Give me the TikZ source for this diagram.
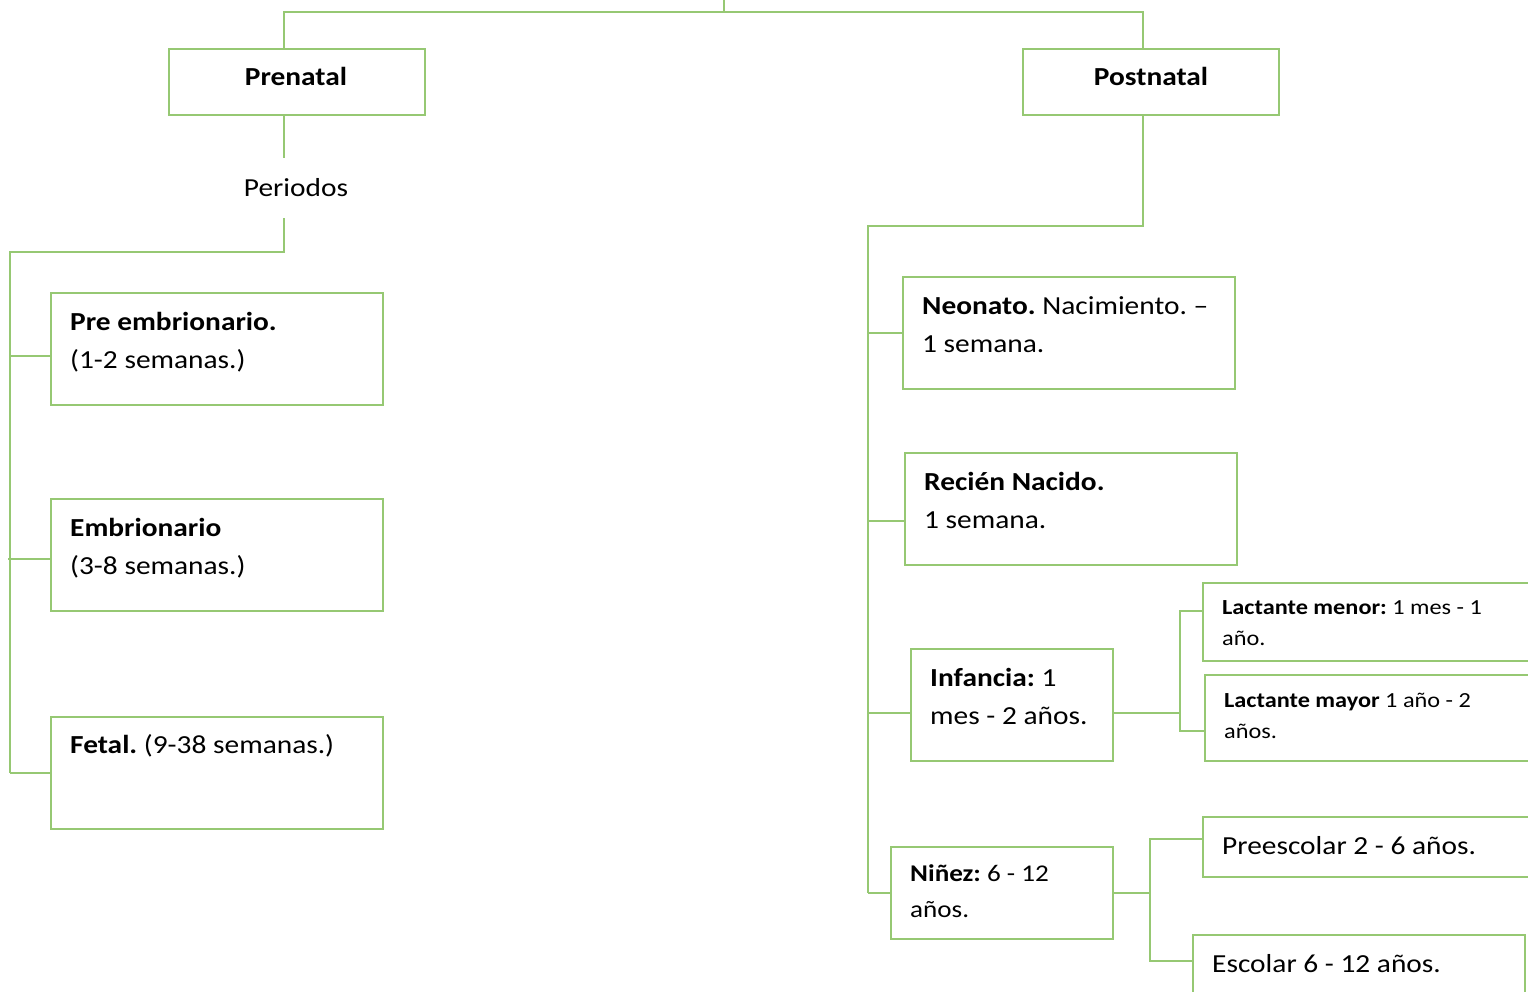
\documentclass[tikz,border=0pt]{standalone}
\usepackage{fontspec}
\setmainfont{Carlito}[FakeStretch=1.13]
\usetikzlibrary{calc}
\definecolor{lg}{RGB}{150,200,115}
\frenchspacing
\begin{document}
\begin{tikzpicture}[x=1pt,y=-1pt,
  conn/.style={draw=lg,line width=1.6pt},
  box/.style={draw=lg,line width=1.6pt,anchor=north west,inner sep=0pt},
  t/.style={anchor=base west,inner sep=0pt,font=\fontsize{26}{31}\selectfont},
  tn/.style={anchor=base west,inner sep=0pt,font=\fontsize{24}{29}\selectfont},
  ts/.style={anchor=base west,inner sep=0pt,font=\fontsize{21.5}{26}\selectfont},
  tc/.style={anchor=base,inner sep=0pt,font=\fontsize{26}{31}\selectfont}]
\useasboundingbox (0,0) rectangle (1528,992);
\fill[white] (0,0) rectangle (1528,992);
\clip (0,0) rectangle (1528,992);

% boxes
\node[box,minimum width=256pt,minimum height=66pt] (prenatal) at (168,48) {};
\node[box,minimum width=256pt,minimum height=66pt] (postnatal) at (1022,48) {};
\node[inner sep=0pt,minimum height=60pt,font=\fontsize{26}{31}\selectfont] (periodos) at (296,188) {Periodos};

\node[box,minimum width=332pt,minimum height=112pt] (preemb) at (50,292) {};
\node[box,minimum width=332pt,minimum height=112pt] (emb) at (50,498) {};
\node[box,minimum width=332pt,minimum height=112pt] (fetal) at (50,716) {};

\node[box,minimum width=332pt,minimum height=112pt] (neonato) at (902,276) {};
\node[box,minimum width=332pt,minimum height=112pt] (recien) at (904,452) {};
\node[box,minimum width=202pt,minimum height=112pt] (infancia) at (910,648) {};
\node[box,minimum width=222pt,minimum height=92pt] (ninez) at (890,846) {};
\node[box,minimum width=360pt,minimum height=78pt] (lmenor) at (1202,582) {};
\node[box,minimum width=360pt,minimum height=86pt] (lmayor) at (1204,674) {};
\node[box,minimum width=360pt,minimum height=60pt] (preesc) at (1202,816) {};
\node[box,minimum width=332pt,minimum height=76pt] (escolar) at (1192,934) {};

% texts
\node[tc] (tprenatal) at (296,86) {\textbf{Prenatal}};
\node[tc] (tpostnatal) at (1151,86) {\textbf{Postnatal}};
\node[t] (tpre1) at (70,330) {\textbf{Pre embrionario.}};
\node[t] (tpre2) at (70,368) {(1-2 semanas.)};
\node[t] (temb1) at (70,536) {\textbf{Embrionario}};
\node[t] (temb2) at (70,574) {(3-8 semanas.)};
\node[t] (tfet) at (70,753) {\textbf{Fetal.} (9-38 semanas.)};
\node[t] (tneo1) at (922,314) {\textbf{Neonato.} Nacimiento. –};
\node[t] (tneo2) at (922,352) {1 semana.};
\node[t] (trec1) at (924,490) {\textbf{Recién Nacido.}};
\node[t] (trec2) at (924,528) {1 semana.};
\node[t] (tinf1) at (930,686) {\textbf{Infancia:} 1};
\node[t] (tinf2) at (930,724) {mes - 2 años.};
\node[ts] (tlme1) at (1222,614) {\textbf{Lactante menor:} 1 mes - 1};
\node[ts] (tlme2) at (1222,645) {año.};
\node[ts] (tlma1) at (1224,707) {\textbf{Lactante mayor} 1 año - 2};
\node[ts] (tlma2) at (1224,738) {años.};
\node[tn] (tnin1) at (910,881) {\textbf{Niñez:} 6 - 12};
\node[tn] (tnin2) at (910,917) {años.};
\node[t] (tpre) at (1222,854) {Preescolar 2 - 6 años.};
\node[t] (tesc) at (1212,972) {Escolar 6 - 12 años.};

% guide coordinates
\coordinate (root) at (724,0);
\coordinate (bus) at (0,12);
\coordinate (xa) at (284,0);
\coordinate (xb) at (1143,0);
\coordinate (xl) at (10,0);
\coordinate (xr) at (868,0);
\coordinate (xi) at (1180,0);
\coordinate (xn) at (1150,0);
\coordinate (yl) at (0,252);
\coordinate (yr) at (0,226);

% connectors
\draw[conn] (root) -- (root |- bus);
\draw[conn] (prenatal.north -| xa) |- (bus -| xb) -- (postnatal.north -| xb);
\draw[conn] (prenatal.south -| xa) -- (periodos.north -| xa);
\draw[conn] (periodos.south -| xa) |- (yl -| xl) -- (fetal.west -| xl);
\draw[conn] ([yshift=-7pt]preemb.west -| xl) -- ([yshift=-7pt]preemb.west);
\draw[conn] ([yshift=-4pt]emb.west -| xl) ++(-2,0) -- ([yshift=-4pt]emb.west);
\draw[conn] (fetal.west -| xl) -- (fetal.west);

\draw[conn] (postnatal.south -| xb) |- (yr -| xr) -- (ninez.west -| xr);
\draw[conn] (neonato.west -| xr) -- (neonato.west);
\draw[conn] ([yshift=-12pt]recien.west -| xr) -- ([yshift=-12pt]recien.west);
\draw[conn] ([yshift=-8pt]infancia.west -| xr) -- ([yshift=-8pt]infancia.west);
\draw[conn] (ninez.west -| xr) -- (ninez.west);

\draw[conn] ([yshift=-8pt]infancia.east) -- ([yshift=-8pt]infancia.east -| xi);
\draw[conn] ([yshift=11pt]lmenor.west) -| ([yshift=-13pt]lmayor.west -| xi) -- ([yshift=-13pt]lmayor.west);

\draw[conn] (ninez.east) -- (ninez.east -| xn);
\draw[conn] ([yshift=8pt]preesc.west) -| ([yshift=12pt]escolar.west -| xn) -- ([yshift=12pt]escolar.west);
\end{tikzpicture}
\end{document}
